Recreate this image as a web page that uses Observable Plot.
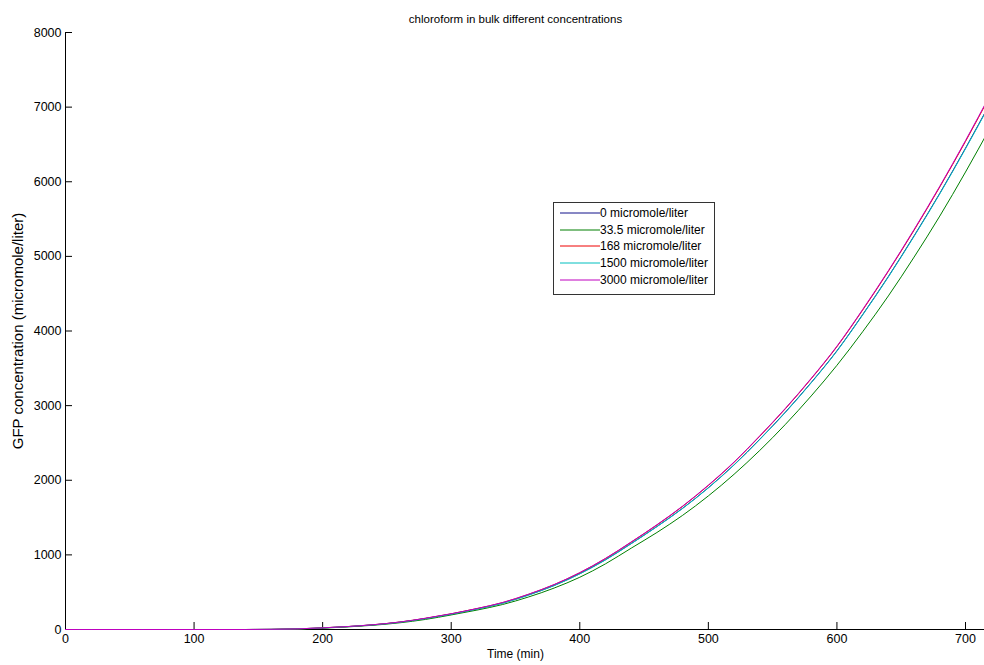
<!DOCTYPE html>
<html>
<head>
<meta charset="utf-8">
<script src="https://cdn.jsdelivr.net/npm/d3@7"></script>
<script src="https://cdn.jsdelivr.net/npm/@observablehq/plot@0.6"></script>
<style>
  html, body { margin: 0; padding: 0; background: #fff; }
  #wrap { position: relative; width: 984px; height: 665px; overflow: hidden; font-family: "Liberation Sans", Arial, sans-serif; }
  #legend { position: absolute; left: 553px; top: 202px; width: 162px; height: 93px; border: 1px solid #333; background: #fff; box-sizing: border-box; }
  .row { position: absolute; left: 0; height: 16px; font-size: 12px; line-height: 16px; color: #000; white-space: nowrap; }
  .row svg { position: absolute; left: 6px; top: 7px; }
  .row span { position: absolute; left: 46px; top: 0; }
</style>
</head>
<body>
<div id="wrap"></div>
<script>
const title = "chloroform in bulk different concentrations";
const xLabel = "Time (min)";
const yLabel = "GFP concentration (micromole/liter)";
const seriesNames = ["0 micromole/liter", "33.5 micromole/liter", "168 micromole/liter", "1500 micromole/liter", "3000 micromole/liter"];
const seriesColors = ["#10108a", "#007f00", "#ee0000", "#00bfbf", "#bf00bf"];
const xTicks = [0, 100, 200, 300, 400, 500, 600, 700];
const yTicks = [0, 1000, 2000, 3000, 4000, 5000, 6000, 7000, 8000];
const xAxisExtent = [0, 720];

const times = [0, 20, 40, 60, 80, 100, 120, 140, 160, 180, 200, 220, 240, 260, 280, 300, 320, 340, 360, 380, 400, 420, 440, 460, 480, 500, 520, 540, 560, 580, 600, 620, 640, 660, 680, 700, 720];
const s0    = [0, 0, 0, 0, 0, 0, 0, 0, 2, 8, 21, 39, 63, 98, 147, 206, 275, 354, 462, 590, 748, 935, 1152, 1380, 1625, 1900, 2207, 2550, 2915, 3310, 3735, 4220, 4730, 5275, 5845, 6450, 7080];
const s33_5 = [0, 0, 0, 0, 0, 0, 0, 0, 1, 5, 18, 35, 58, 90, 135, 195, 260, 335, 435, 555, 700, 880, 1090, 1300, 1530, 1790, 2080, 2400, 2750, 3130, 3540, 3990, 4470, 4990, 5540, 6130, 6750];
const s168  = [0, 0, 0, 0, 0, 0, 0, 0, 2, 8, 22, 40, 65, 100, 150, 210, 280, 360, 470, 600, 760, 950, 1170, 1400, 1650, 1930, 2240, 2590, 2960, 3360, 3790, 4280, 4800, 5350, 5930, 6540, 7180];
const s1500 = [0, 0, 0, 0, 0, 0, 0, 0, 2, 8, 21, 39, 63, 97, 146, 205, 274, 353, 460, 588, 745, 932, 1150, 1378, 1622, 1897, 2204, 2546, 2910, 3305, 3730, 4214, 4724, 5268, 5838, 6442, 7070];
const s3000 = [0, 0, 0, 0, 0, 0, 0, 0, 2, 8, 22, 40, 65, 100, 151, 211, 281, 362, 472, 602, 762, 953, 1173, 1404, 1654, 1935, 2245, 2596, 2966, 3366, 3797, 4288, 4808, 5360, 5940, 6552, 7192];
const seriesValues = [s0, s33_5, s168, s1500, s3000];

const data = [];
seriesNames.forEach((name, i) => {
  times.forEach((t, j) => data.push({series: name, time: t, value: seriesValues[i][j]}));
});

const W = 984, H = 665, mT = 32, mB = 36, mL = 65, mR = 19;
const frameW = W - mL - mR, frameH = H - mT - mB;
const font = "Liberation Sans, Arial, sans-serif";

const chart = Plot.plot({
  width: W, height: H,
  marginTop: mT, marginBottom: mB, marginLeft: mL, marginRight: mR,
  style: {fontFamily: font, fontSize: "12.5px", color: "#000", background: "#fff", overflow: "visible"},
  x: {domain: [0, 700]},
  y: {domain: [0, 8000]},
  color: {domain: seriesNames, range: seriesColors},
  marks: [
    Plot.axisX({ticks: xTicks, tickSize: 0, tickPadding: 5, tickFormat: "d", label: null, fontSize: 12.5}),
    Plot.axisY({ticks: yTicks, tickSize: 0, tickPadding: 4, tickFormat: "d", label: null, fontSize: 12.5}),
    Plot.tickX(xTicks, {x: d => d, insetTop: frameH - 7, stroke: "#000"}),
    Plot.tickY(yTicks, {y: d => d, insetRight: frameW - 7, stroke: "#000"}),
    Plot.ruleX([0], {stroke: "#000"}),
    Plot.ruleY([0], {x1: () => xAxisExtent[0], x2: () => xAxisExtent[1], stroke: "#000"}),
    Plot.lineY(data, {x: "time", y: "value", z: "series", stroke: "series", strokeWidth: 1, curve: "monotone-x"}),
    Plot.text([title], {frameAnchor: "top", dy: -18, fontSize: 11.5, fill: "#000", textAnchor: "middle"}),
    Plot.text([xLabel], {frameAnchor: "bottom", dy: 28, fontSize: 12, fill: "#000", textAnchor: "middle"}),
    Plot.text([yLabel], {frameAnchor: "left", dx: -47, rotate: -90, fontSize: 15, fill: "#000", textAnchor: "middle"})
  ]
});

const wrap = document.getElementById("wrap");
wrap.appendChild(chart);

const legend = document.createElement("div");
legend.id = "legend";
seriesNames.forEach((name, i) => {
  const row = document.createElement("div");
  row.className = "row";
  row.style.top = (2 + i * 16.7) + "px";
  row.innerHTML = `<svg width="40" height="2"><line x1="0" y1="1" x2="40" y2="1" stroke="${seriesColors[i]}" stroke-width="1"/></svg><span>${name}</span>`;
  legend.appendChild(row);
});
wrap.appendChild(legend);
</script>
</body>
</html>
